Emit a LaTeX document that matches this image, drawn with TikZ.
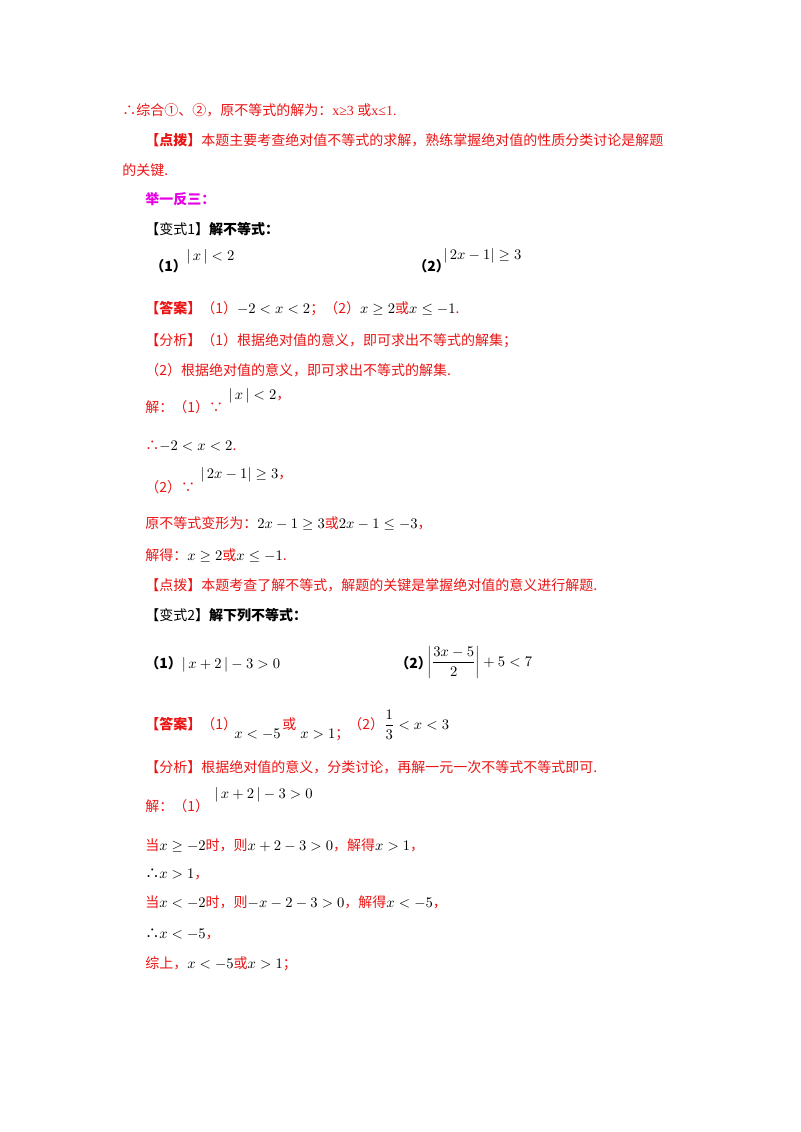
\documentclass[tikz,border=0pt]{standalone}
\usepackage{fontspec}
\setmainfont{Liberation Serif}
\newfontfamily\cjk{Noto Sans CJK SC}
\definecolor{rd}{RGB}{235,20,20}
\definecolor{mg}{RGB}{230,0,230}
\newcommand\rr[1]{{\color{rd}\cjk #1}}
\begin{document}
\begin{tikzpicture}[x=0.75pt,y=-0.75pt,
 t/.style={anchor=base west,inner sep=0pt,font=\fontsize{10.5pt}{12pt}\selectfont}]
\useasboundingbox (0,0) rectangle (800,1132);
\node[t] (l1) at (122,115) {\rr{∴综合①、②，原不等式的解为：}{\color{rd}x≥3 }\rr{或}{\color{rd} x≤1.}};
\node[t] (l2) at (145,145) {\rr{\textbf{【点拨】}本题主要考查绝对值不等式的求解，熟练掌握绝对值的性质分类讨论是解题}};
\node[t] (l3) at (122,175) {\rr{的关键.}};
\node[t] (l4) at (145,204) {{\color{mg}\cjk\bfseries 举一反三：}};
\node[t] (l5) at (145,234) {{\cjk 【变式1】\bfseries 解不等式：}};
\node[t] (l6a) at (150,271) {{\cjk\bfseries （1）}};
\node[t] (l6b) at (186,260) {$|\,x\,|<2$};
\node[t] (l6c) at (413,271) {{\cjk\bfseries （2）}};
\node[t] (l6d) at (443,259) {$|\,2x-1|\geq 3$};
\node[t] (l7) at (145,313) {\rr{\bfseries 【答案】}\rr{（1）}$-2<x<2$\rr{；（2）}$x\geq 2$\rr{或}$x\leq -1$\rr{.}};
\node[t] (l8) at (145,345) {\rr{【分析】（1）根据绝对值的意义，即可求出不等式的解集；}};
\node[t] (l9) at (145,375) {\rr{（2）根据绝对值的意义，即可求出不等式的解集.}};
\node[t] (l10a) at (145,412) {\rr{解：（1）∵}};
\node[t] (l10b) at (228,399) {$|\,x\,|<2$\rr{，}};
\node[t] (l11) at (145,450) {\rr{∴}$-2<x<2$\rr{.}};
\node[t] (l12a) at (145,492) {\rr{（2）∵}};
\node[t] (l12b) at (200,478) {$|\,2x-1|\geq 3$\rr{，}};
\node[t] (l13) at (145,528) {\rr{原不等式变形为：}$2x-1\geq 3$\rr{或}$2x-1\leq -3$\rr{，}};
\node[t] (l14) at (145,560) {\rr{解得：}$x\geq 2$\rr{或}$x\leq -1$\rr{.}};
\node[t] (l15) at (145,590) {\rr{【点拨】本题考查了解不等式，解题的关键是掌握绝对值的意义进行解题.}};
\node[t] (l16) at (145,620) {{\cjk 【变式2】\bfseries 解下列不等式：}};
\node[t] (l17a) at (145,668) {{\cjk\bfseries （1）}$|\,x+2\,|-3>0$};
\node[t] (l17b) at (395,668) {{\cjk\bfseries （2）}};
\node[t] (l17c) at (427,666) {$\displaystyle\left|\frac{3x-5}{2}\right|+5<7$};
\node[t] (l18a) at (145,729) {\rr{\bfseries 【答案】}\rr{（1）}};
\node[t] (l18b) at (234,738) {$x<-5$};
\node[t] (l18c) at (282,729) {\rr{或}};
\node[t] (l18d) at (300,738) {$x>1$\rr{；}};
\node[t] (l18e) at (348,729) {\rr{（2）}$\displaystyle\frac{1}{3}<x<3$};
\node[t] (l19) at (145,772) {\rr{【分析】根据绝对值的意义，分类讨论，再解一元一次不等式不等式即可.}};
\node[t] (l20a) at (214,798) {$|\,x+2\,|-3>0$};
\node[t] (l20b) at (145,811) {\rr{解：（1）}};
\node[t] (l21) at (145,850) {\rr{当}$x\geq -2$\rr{时，则}$x+2-3>0$\rr{，解得}$x>1$\rr{，}};
\node[t] (l22) at (145,878) {{\cjk ∴}$x>1$\rr{，}};
\node[t] (l23) at (145,907) {\rr{当}$x<-2$\rr{时，则}$-x-2-3>0$\rr{，解得}$x<-5$\rr{，}};
\node[t] (l24) at (145,938) {{\cjk ∴}$x<-5$\rr{，}};
\node[t] (l25) at (145,968) {\rr{综上，}$x<-5$\rr{或}$x>1$\rr{；}};
\end{tikzpicture}
\end{document}
